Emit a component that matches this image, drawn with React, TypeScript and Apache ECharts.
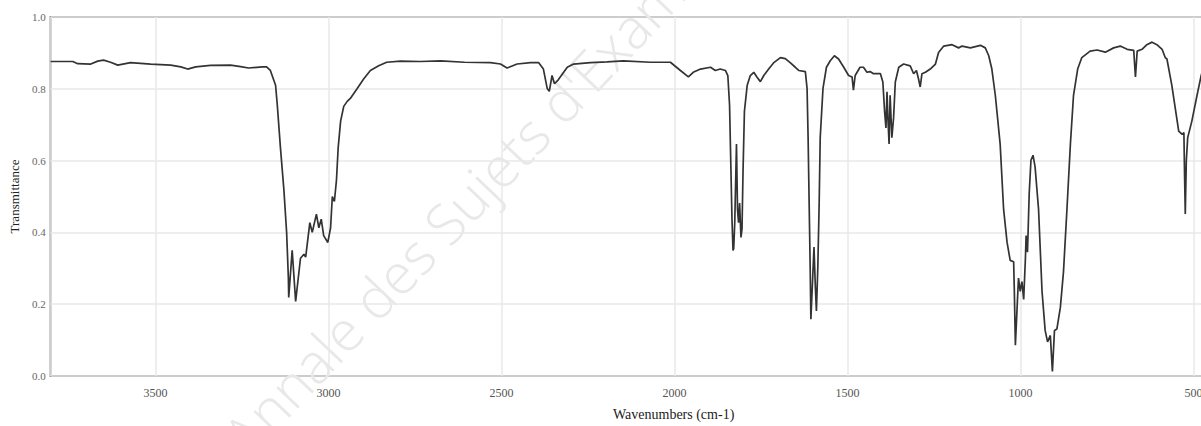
import React, { useEffect, useRef } from 'react';
import * as echarts from 'echarts';

// IR spectrum (wavenumber in cm-1, transmittance 0..1)
const wavenumbers: number[] = [
  3803, 3739, 3725, 3687, 3667, 3650, 3630, 3609, 3572, 3514, 3456, 3427, 3407, 3384, 3341, 3283, 3254, 3231, 3191, 3179,
  3168, 3153, 3148, 3139, 3129, 3121, 3116, 3115, 3105, 3095, 3081, 3071, 3066, 3054, 3047, 3035, 3028, 3021, 3014, 3002,
  2994, 2989, 2983, 2977, 2972, 2965, 2956, 2946, 2937, 2917, 2898, 2879, 2855, 2832, 2792, 2734, 2676, 2607, 2532, 2503,
  2484, 2455, 2416, 2393, 2379, 2368, 2362, 2354, 2347, 2336, 2310, 2292, 2243, 2195, 2148, 2070, 2012, 1983, 1960, 1946,
  1925, 1896, 1882, 1868, 1853, 1846, 1841, 1837, 1834, 1831, 1829, 1826, 1821, 1818, 1815, 1812, 1808, 1805, 1802, 1798,
  1790, 1781, 1771, 1762, 1752, 1742, 1728, 1714, 1694, 1680, 1665, 1651, 1641, 1622, 1617, 1614, 1611, 1608, 1606, 1602,
  1597, 1593, 1590, 1586, 1582, 1579, 1571, 1561, 1550, 1538, 1526, 1511, 1497, 1487, 1483, 1478, 1464, 1454, 1444, 1435,
  1425, 1405, 1398, 1393, 1389, 1386, 1383, 1380, 1377, 1372, 1367, 1362, 1352, 1338, 1319, 1309, 1301, 1295, 1290, 1285,
  1275, 1261, 1246, 1237, 1222, 1198, 1179, 1169, 1145, 1116, 1102, 1092, 1083, 1073, 1059, 1049, 1039, 1030, 1020, 1018,
  1015, 1010, 1006, 1001, 996, 991, 986, 984, 980, 975, 970, 964, 958, 948, 938, 929, 922, 914, 908, 902,
  895, 885, 876, 866, 856, 847, 835, 823, 799, 779, 755, 731, 712, 692, 673, 668, 663, 649, 635, 620,
  606, 591, 582, 577, 563, 553, 543, 533, 528, 526, 524, 521, 517, 505, 490, 478, 470, 450
];

const transmittance: number[] = [
  0.876, 0.876, 0.870, 0.869, 0.877, 0.880, 0.874, 0.866, 0.873, 0.869, 0.866, 0.861, 0.855, 0.861, 0.865, 0.866, 0.862, 0.858, 0.861, 0.861,
  0.851, 0.810, 0.755, 0.637, 0.519, 0.399, 0.273, 0.219, 0.350, 0.208, 0.328, 0.339, 0.331, 0.427, 0.400, 0.451, 0.413, 0.437, 0.391, 0.372,
  0.413, 0.500, 0.486, 0.546, 0.637, 0.710, 0.751, 0.765, 0.773, 0.801, 0.828, 0.851, 0.864, 0.874, 0.877, 0.876, 0.878, 0.874, 0.873, 0.869,
  0.858, 0.869, 0.873, 0.873, 0.855, 0.801, 0.793, 0.837, 0.814, 0.825, 0.860, 0.869, 0.873, 0.875, 0.878, 0.874, 0.874, 0.851, 0.833, 0.846,
  0.855, 0.860, 0.851, 0.855, 0.851, 0.837, 0.755, 0.574, 0.437, 0.350, 0.355, 0.427, 0.646, 0.464, 0.427, 0.482, 0.386, 0.410, 0.574, 0.738,
  0.810, 0.837, 0.846, 0.833, 0.820, 0.837, 0.855, 0.872, 0.887, 0.884, 0.872, 0.860, 0.851, 0.848, 0.801, 0.664, 0.482, 0.301, 0.158, 0.246,
  0.359, 0.246, 0.181, 0.301, 0.482, 0.664, 0.801, 0.860, 0.878, 0.892, 0.883, 0.860, 0.837, 0.833, 0.796, 0.837, 0.860, 0.860, 0.846, 0.848,
  0.842, 0.842, 0.819, 0.738, 0.691, 0.792, 0.710, 0.646, 0.782, 0.664, 0.719, 0.819, 0.860, 0.869, 0.864, 0.842, 0.851, 0.828, 0.805, 0.842,
  0.846, 0.855, 0.869, 0.901, 0.919, 0.923, 0.914, 0.919, 0.914, 0.921, 0.914, 0.892, 0.855, 0.782, 0.646, 0.464, 0.372, 0.322, 0.318, 0.236,
  0.086, 0.191, 0.273, 0.236, 0.263, 0.213, 0.328, 0.391, 0.345, 0.509, 0.601, 0.615, 0.582, 0.464, 0.236, 0.127, 0.095, 0.113, 0.013, 0.127,
  0.131, 0.191, 0.290, 0.464, 0.646, 0.782, 0.855, 0.887, 0.905, 0.908, 0.902, 0.914, 0.919, 0.910, 0.907, 0.833, 0.905, 0.910, 0.923, 0.930,
  0.923, 0.910, 0.887, 0.883, 0.810, 0.746, 0.682, 0.673, 0.678, 0.555, 0.451, 0.600, 0.664, 0.710, 0.782, 0.837, 0.865, 0.875
];

const X_MIN = 0;
const X_MAX = 3803;
const X_INTERVAL = 500;
const Y_MIN = 0;
const Y_MAX = 1;
const Y_INTERVAL = 0.2;

const X_NAME = 'Wavenumbers (cm-1)';
const Y_NAME = 'Transmittance';
const WATERMARK = "Annale des Sujets d'Examen";

export default function App() {
  const ref = useRef<HTMLDivElement>(null);

  useEffect(() => {
    if (!ref.current) return;
    const chart = echarts.init(ref.current, null, { renderer: 'svg' });
    const data = wavenumbers.map((w, i) => [w, transmittance[i]]);
    const serif = '"Liberation Serif", "DejaVu Serif", serif';
    chart.setOption({
      animation: false,
      backgroundColor: '#ffffff',
      grid: {
        left: 50,
        right: 33.4,
        top: 17,
        bottom: 43,
        show: true,
        borderColor: '#7a7a7a',
        borderWidth: 2,
        backgroundColor: 'transparent',
      },
      graphic: [
        {
          type: 'text',
          x: 475,
          y: 190,
          rotation: (46.5 * Math.PI) / 180,
          z: 0,
          silent: true,
          style: {
            text: WATERMARK,
            fill: '#e8e8e8',
            font: '300 56px "Open Sans", "Noto Sans", sans-serif',
            textAlign: 'center',
            textVerticalAlign: 'middle',
          },
        },
      ],
      xAxis: {
        type: 'value',
        inverse: true,
        min: X_MIN,
        max: X_MAX,
        interval: X_INTERVAL,
        name: X_NAME,
        nameLocation: 'middle',
        nameGap: 31,
        nameTextStyle: {
          fontFamily: serif,
          fontSize: 14,
          color: '#222',
          padding: [0, 70, 0, 0],
        },
        axisLine: { show: false },
        axisTick: { show: false },
        axisLabel: {
          showMaxLabel: false,
          margin: 11,
          fontFamily: serif,
          fontSize: 12,
          color: '#555',
          formatter: (v: number) => String(v),
        },
        splitLine: { show: true, lineStyle: { color: '#e9e9e9', width: 1.5 } },
      },
      yAxis: {
        type: 'value',
        min: Y_MIN,
        max: Y_MAX,
        interval: Y_INTERVAL,
        name: Y_NAME,
        nameLocation: 'middle',
        nameGap: 28,
        nameRotate: 90,
        nameTextStyle: { fontFamily: serif, fontSize: 13, color: '#222' },
        axisLine: { show: false },
        axisTick: { show: false },
        axisLabel: {
          margin: 5,
          fontFamily: serif,
          fontSize: 11,
          color: '#666',
          formatter: (v: number) => v.toFixed(1),
        },
        splitLine: { show: true, lineStyle: { color: '#e9e9e9', width: 1.5 } },
      },
      series: [
        {
          type: 'line',
          data,
          showSymbol: false,
          symbol: 'none',
          smooth: false,
          z: 3,
          lineStyle: { color: '#333333', width: 1.7 },
        },
      ],
    });
    return () => chart.dispose();
  }, []);

  return (
    <div
      style={{
        position: 'fixed',
        left: 0,
        top: 0,
        width: 1201,
        height: 426,
        overflow: 'hidden',
        background: '#fff',
      }}
    >
      <div ref={ref} style={{ width: 1400, height: 426 }} />
    </div>
  );
}
